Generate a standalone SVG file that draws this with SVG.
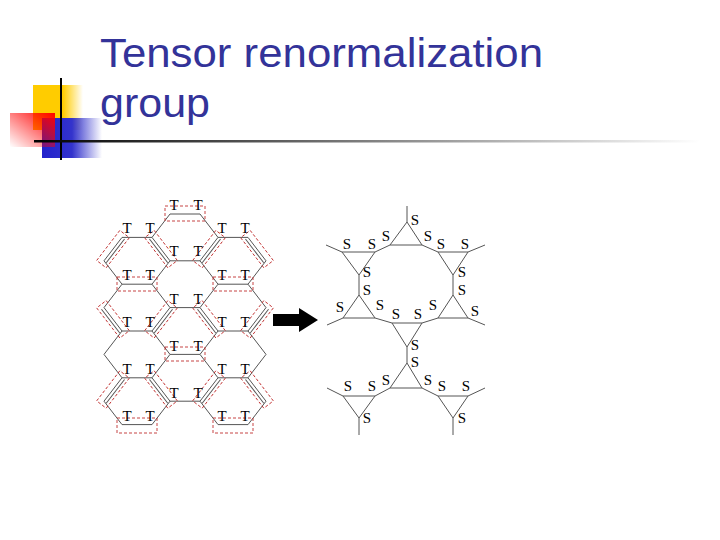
<svg xmlns="http://www.w3.org/2000/svg" width="720" height="540" viewBox="0 0 720 540">
<defs>
<linearGradient id="gy" x1="0" x2="1" y1="0" y2="0"><stop offset="0" stop-color="#ffcc00"/><stop offset="0.6" stop-color="#ffcc00"/><stop offset="1" stop-color="#ffcc00" stop-opacity="0"/></linearGradient>
<linearGradient id="gb" x1="0" x2="1" y1="0" y2="0"><stop offset="0" stop-color="#2222cc"/><stop offset="0.5" stop-color="#3333cc"/><stop offset="1" stop-color="#3333cc" stop-opacity="0"/></linearGradient>
<linearGradient id="gr" x1="1" x2="0" y1="0" y2="1"><stop offset="0" stop-color="#ff0000"/><stop offset="1" stop-color="#ff0000" stop-opacity="0"/></linearGradient>
<linearGradient id="gl" x1="0" x2="1" y1="0" y2="0"><stop offset="0" stop-color="#000"/><stop offset="0.4" stop-color="#666"/><stop offset="1" stop-color="#fff"/></linearGradient>
</defs>
<style>
.t{font-family:"Liberation Serif",serif;font-size:15px;text-anchor:middle;fill:#000}
.e{stroke:#555;stroke-width:1;fill:none}
.d{stroke:#c03030;stroke-width:0.9;stroke-dasharray:3 2;fill:none}
.s{stroke:#555;stroke-width:1;fill:none}
.h{font-family:"Liberation Sans",sans-serif;font-size:40px;fill:#333399}
</style>
<g id="title">
<rect x="33" y="85" width="50" height="45" fill="url(#gy)"/>
<rect x="42" y="118" width="60" height="40" fill="url(#gb)"/>
<rect x="10" y="113" width="45" height="34" fill="url(#gr)"/>
<line x1="61" y1="78" x2="61" y2="160" stroke="#000" stroke-width="2"/>
<rect x="34" y="140" width="666" height="2.5" fill="url(#gl)"/>
<text class="h" x="100" y="67" textLength="443" lengthAdjust="spacingAndGlyphs">Tensor renormalization</text>
<text class="h" x="100" y="117" textLength="110" lengthAdjust="spacingAndGlyphs">group</text>
</g>
<g id="lattice-T">
<path class="e" d="
M122,237.4 L152,237.4 L170,260.8 L152,284.2 L122,284.2 L104,260.8 Z
M152,284.2 L170,307.6 L152,331 L122,331 L104,307.6 L122,284.2
M152,331 L170,354.4 L152,377.8 L122,377.8 L104,354.4 L122,331
M152,377.8 L170,401.2 L152,424.6 L122,424.6 L104,401.2 L122,377.8
M218,237.4 L248,237.4 L266,260.8 L248,284.2 L218,284.2 L200,260.8 Z
M248,284.2 L266,307.6 L248,331 L218,331 L200,307.6 L218,284.2
M248,331 L266,354.4 L248,377.8 L218,377.8 L200,354.4 L218,331
M248,377.8 L266,401.2 L248,424.6 L218,424.6 L200,401.2 L218,377.8
M170,214 L200,214 L218,237.4 M170,214 L152,237.4
M170,260.8 L200,260.8 M170,307.6 L200,307.6 M170,354.4 L200,354.4 M170,401.2 L200,401.2"/>
<g class="d">
<rect x="165" y="206" width="40" height="15"/>
<rect x="117" y="277" width="40" height="14"/>
<rect x="213" y="277" width="40" height="14"/>
<rect x="165" y="347" width="40" height="14"/>
<rect x="117" y="418" width="40" height="15"/>
<rect x="213" y="418" width="40" height="15"/>
</g>
<g id="diag">
<g transform="translate(113,249.1) rotate(-52.4)"><rect class="d" x="-19" y="-6" width="38" height="12"/><line class="e" x1="-15" y1="3" x2="15" y2="3"/></g>
<g transform="translate(161,249.1) rotate(52.4)"><rect class="d" x="-19" y="-6" width="38" height="12"/><line class="e" x1="-15" y1="3" x2="15" y2="3"/></g>
<g transform="translate(209,249.1) rotate(-52.4)"><rect class="d" x="-19" y="-6" width="38" height="12"/><line class="e" x1="-15" y1="3" x2="15" y2="3"/></g>
<g transform="translate(257,249.1) rotate(52.4)"><rect class="d" x="-19" y="-6" width="38" height="12"/><line class="e" x1="-15" y1="3" x2="15" y2="3"/></g>
<g transform="translate(113,319.3) rotate(52.4)"><rect class="d" x="-19" y="-6" width="38" height="12"/><line class="e" x1="-15" y1="3" x2="15" y2="3"/></g>
<g transform="translate(161,319.3) rotate(-52.4)"><rect class="d" x="-19" y="-6" width="38" height="12"/><line class="e" x1="-15" y1="3" x2="15" y2="3"/></g>
<g transform="translate(209,319.3) rotate(52.4)"><rect class="d" x="-19" y="-6" width="38" height="12"/><line class="e" x1="-15" y1="3" x2="15" y2="3"/></g>
<g transform="translate(257,319.3) rotate(-52.4)"><rect class="d" x="-19" y="-6" width="38" height="12"/><line class="e" x1="-15" y1="3" x2="15" y2="3"/></g>
<g transform="translate(113,389.5) rotate(-52.4)"><rect class="d" x="-19" y="-6" width="38" height="12"/><line class="e" x1="-15" y1="3" x2="15" y2="3"/></g>
<g transform="translate(161,389.5) rotate(52.4)"><rect class="d" x="-19" y="-6" width="38" height="12"/><line class="e" x1="-15" y1="3" x2="15" y2="3"/></g>
<g transform="translate(209,389.5) rotate(-52.4)"><rect class="d" x="-19" y="-6" width="38" height="12"/><line class="e" x1="-15" y1="3" x2="15" y2="3"/></g>
<g transform="translate(257,389.5) rotate(52.4)"><rect class="d" x="-19" y="-6" width="38" height="12"/><line class="e" x1="-15" y1="3" x2="15" y2="3"/></g>
</g>
<g>
<text class="t" x="174" y="210">T</text><text class="t" x="198" y="210">T</text>
<text class="t" x="127" y="233">T</text><text class="t" x="150" y="233">T</text><text class="t" x="222" y="233">T</text><text class="t" x="245" y="233">T</text>
<text class="t" x="174" y="256">T</text><text class="t" x="198" y="256">T</text>
<text class="t" x="127" y="280">T</text><text class="t" x="150" y="280">T</text><text class="t" x="222" y="280">T</text><text class="t" x="245" y="280">T</text>
<text class="t" x="174" y="304">T</text><text class="t" x="198" y="304">T</text>
<text class="t" x="127" y="327">T</text><text class="t" x="150" y="327">T</text><text class="t" x="222" y="327">T</text><text class="t" x="245" y="327">T</text>
<text class="t" x="174" y="351">T</text><text class="t" x="198" y="351">T</text>
<text class="t" x="127" y="374">T</text><text class="t" x="150" y="374">T</text><text class="t" x="222" y="374">T</text><text class="t" x="245" y="374">T</text>
<text class="t" x="174" y="398">T</text><text class="t" x="198" y="398">T</text>
<text class="t" x="127" y="421">T</text><text class="t" x="150" y="421">T</text><text class="t" x="222" y="421">T</text><text class="t" x="245" y="421">T</text>
</g>
</g>
<g id="arrow">
<path d="M273,314 L299,314 L299,308 L318,320 L299,332 L299,326 L273,326 Z" fill="#000"/>
</g>
<g id="lattice-S">
<path class="s" d="
M407,206 L407,222 M407,222 L390,245 L422,245 Z
M342,252 L375,252 L359,275 Z M438,252 L468,252 L453,275 Z
M342,252 L326,245 M375,252 L390,245 M422,245 L438,252 M468,252 L485,245
M359,275 L359,295 M453,275 L453,295
M359,295 L343,318 L375,318 Z M453,295 L438,318 L468,318 Z
M392,323 L422,323 L407,347 Z
M343,318 L327,325 M375,318 L392,323 M422,323 L438,318 M468,318 L485,325
M407,347 L407,363 M407,363 L390,388 L422,388 Z
M343,396 L375,396 L359,418 Z M438,396 L468,396 L453,418 Z
M343,396 L327,388 M375,396 L390,388 M422,388 L438,396 M468,396 L485,388
M359,418 L359,435 M453,418 L453,435"/>
<g>
<text class="t" x="415" y="225">S</text>
<text class="t" x="347" y="249">S</text><text class="t" x="372" y="249">S</text>
<text class="t" x="386" y="241">S</text><text class="t" x="428" y="241">S</text>
<text class="t" x="441" y="249">S</text><text class="t" x="465" y="249">S</text>
<text class="t" x="367" y="277">S</text><text class="t" x="367" y="295">S</text>
<text class="t" x="462" y="277">S</text><text class="t" x="462" y="295">S</text>
<text class="t" x="340" y="312">S</text><text class="t" x="380" y="310">S</text>
<text class="t" x="396" y="319">S</text><text class="t" x="418" y="319">S</text>
<text class="t" x="433" y="310">S</text><text class="t" x="475" y="316">S</text>
<text class="t" x="415" y="350">S</text><text class="t" x="415" y="367">S</text>
<text class="t" x="386" y="385">S</text><text class="t" x="428" y="385">S</text>
<text class="t" x="348" y="391">S</text><text class="t" x="372" y="391">S</text>
<text class="t" x="442" y="391">S</text><text class="t" x="466" y="391">S</text>
<text class="t" x="367" y="423">S</text><text class="t" x="462" y="423">S</text>
</g>
</g>
</svg>
